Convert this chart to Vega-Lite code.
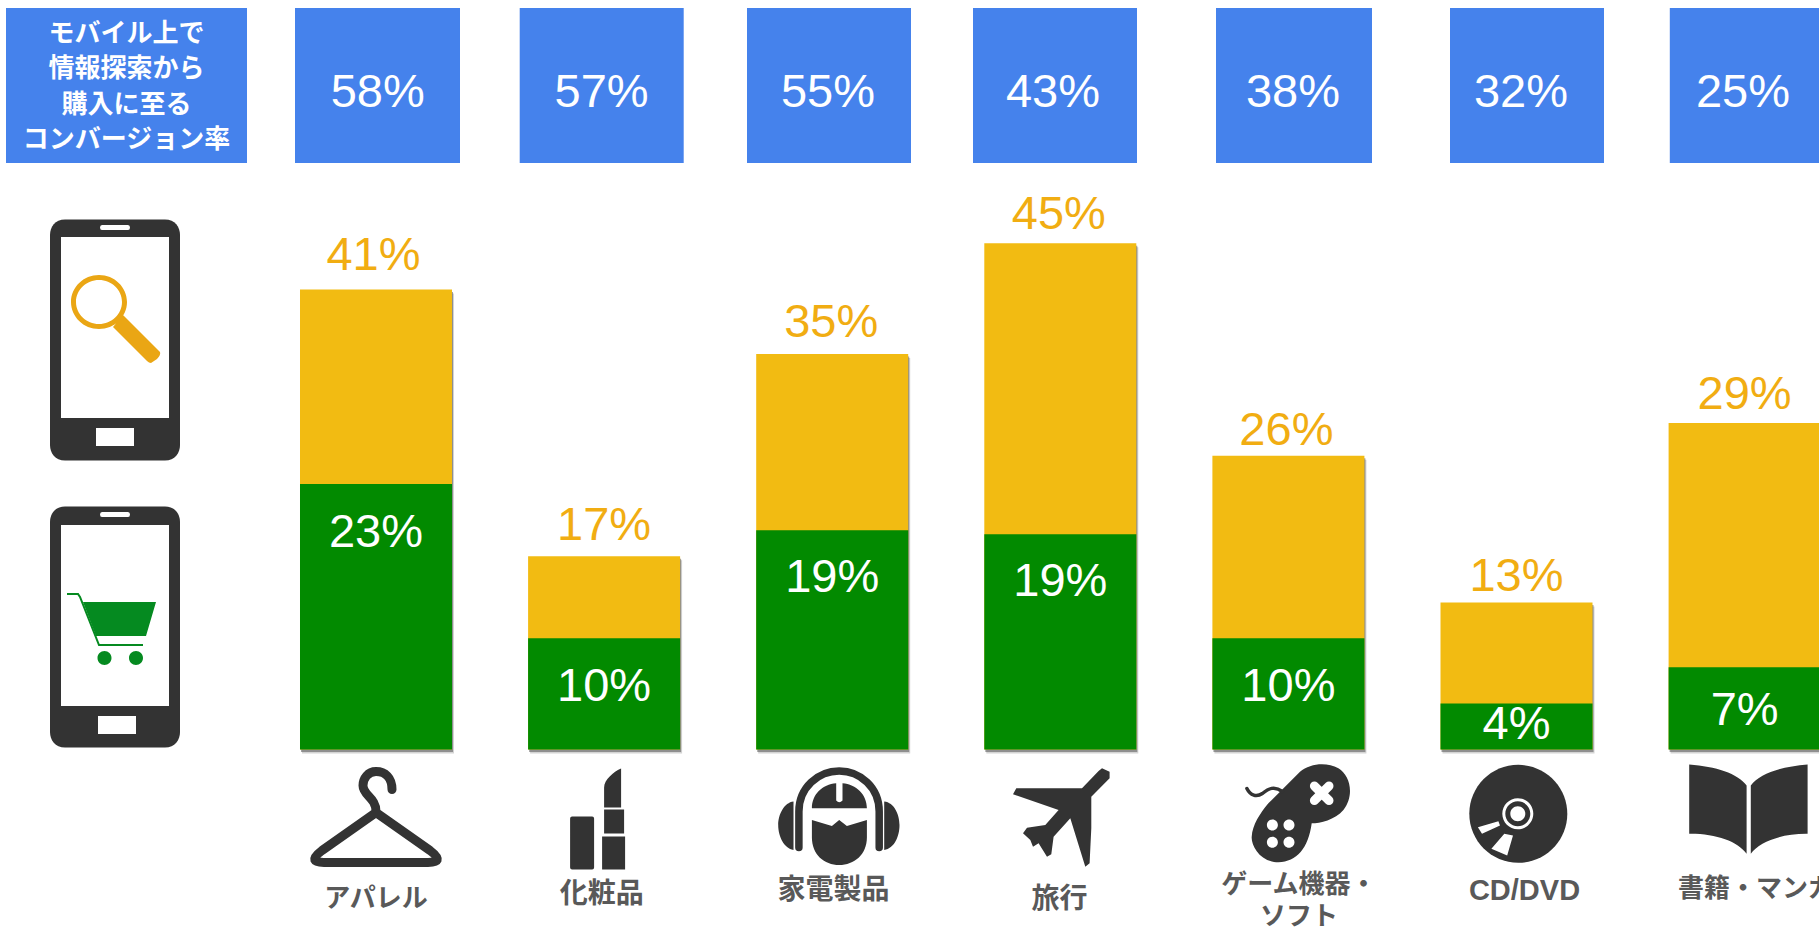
{
"$schema":"https://vega.github.io/schema/vega-lite/v6.json",
"width":1819,"height":930,"padding":0,"autosize":{"type":"none"},"background":"white",
"config":{"view":{"stroke":null},"axis":{"disable":true},"text":{"font":"Liberation Sans","fontSize":47,"baseline":"alphabetic","align":"center"},"point":{"size":4,"filled":true,"opacity":1,"strokeWidth":0}},
"datasets":{
"metrics":[
{"category":"アパレル","search":40.7,"purchase":23.5,"searchLabel":"41%","purchaseLabel":"23%"},
{"category":"化粧品","search":17.1,"purchase":9.85,"searchLabel":"17%","purchaseLabel":"10%"},
{"category":"家電製品","search":35,"purchase":19.4,"searchLabel":"35%","purchaseLabel":"19%"},
{"category":"旅行","search":44.8,"purchase":19.05,"searchLabel":"45%","purchaseLabel":"19%"},
{"category":"ゲーム機器・\nソフト","search":26,"purchase":9.85,"searchLabel":"26%","purchaseLabel":"10%"},
{"category":"CD/DVD","search":13,"purchase":4.07,"searchLabel":"13%","purchaseLabel":"4%"},
{"category":"書籍・マンガ","search":28.9,"purchase":7.28,"searchLabel":"29%","purchaseLabel":"7%"}],
"conversion":[
{"category":"指標","row":"コンバージョン率","label":"モバイル上で\n情報探索から\n購入に至る\nコンバージョン率"},
{"category":"アパレル","row":"コンバージョン率","label":"58%"},
{"category":"化粧品","row":"コンバージョン率","label":"57%"},
{"category":"家電製品","row":"コンバージョン率","label":"55%"},
{"category":"旅行","row":"コンバージョン率","label":"43%"},
{"category":"ゲーム機器・\nソフト","row":"コンバージョン率","label":"38%"},
{"category":"CD/DVD","row":"コンバージョン率","label":"32%"},
{"category":"書籍・マンガ","row":"コンバージョン率","label":"25%"}]
},
"encoding":{"x":{"field":"category","type":"nominal","axis":null,"sort":null,"scale":{"domain":["指標","アパレル","化粧品","家電製品","旅行","ゲーム機器・\nソフト","CD/DVD","書籍・マンガ"],"range":[33.85,1858.65],"paddingInner":0.3336,"paddingOuter":0.1668}}},
"resolve":{"scale":{"y":"independent"}},
"layer":[
{"data":{"name":"metrics"},
"layer":[
{"encoding":{"y":{"field":"search","type":"quantitative","axis":null,"scale":{"domain":[0,66.33],"range":[749.5,0],"nice":false,"zero":false}}},
"layer":[
{"mark":{"type":"bar","color":"#555555","opacity":0.25,"xOffset":2,"yOffset":4}},
{"mark":{"type":"bar","color":"#555555","opacity":0.55,"xOffset":1,"yOffset":2.5}},
{"mark":{"type":"bar","color":"#F2BB12"}}]},
{"mark":{"type":"bar","color":"#028A00"},"encoding":{"y":{"field":"purchase","type":"quantitative","axis":null}}},

{"transform":[{"filter":"datum.category==='アパレル'"}],"layer":[
{"mark":{"type":"text","color":"#F1AD12","dy":-20,"dx":-2.5},"encoding":{"y":{"field":"search","type":"quantitative"},"text":{"field":"searchLabel"}}},
{"mark":{"type":"text","color":"white","dy":62.7},"encoding":{"y":{"field":"purchase","type":"quantitative"},"text":{"field":"purchaseLabel"}}},
{"mark":{"type":"text","color":"#595959","font":"Noto Sans CJK JP","fontWeight":"bold","fontSize":26,"baseline":"middle","dy":149},"encoding":{"y":{"datum":0,"type":"quantitative"},"text":{"field":"category"}}}]},
{"transform":[{"filter":"datum.category==='化粧品'"}],"layer":[
{"mark":{"type":"text","color":"#F1AD12","dy":-16.7},"encoding":{"y":{"field":"search","type":"quantitative"},"text":{"field":"searchLabel"}}},
{"mark":{"type":"text","color":"white","dy":63},"encoding":{"y":{"field":"purchase","type":"quantitative"},"text":{"field":"purchaseLabel"}}},
{"mark":{"type":"text","color":"#595959","font":"Noto Sans CJK JP","fontWeight":"bold","fontSize":28,"baseline":"middle","dy":145,"dx":-2.3},"encoding":{"y":{"datum":0,"type":"quantitative"},"text":{"field":"category"}}}]},
{"transform":[{"filter":"datum.category==='家電製品'"}],"layer":[
{"mark":{"type":"text","color":"#F1AD12","dy":-17.5,"dx":-1},"encoding":{"y":{"field":"search","type":"quantitative"},"text":{"field":"searchLabel"}}},
{"mark":{"type":"text","color":"white","dy":62},"encoding":{"y":{"field":"purchase","type":"quantitative"},"text":{"field":"purchaseLabel"}}},
{"mark":{"type":"text","color":"#595959","font":"Noto Sans CJK JP","fontWeight":"bold","fontSize":28,"baseline":"middle","dy":141.5,"dx":1.4},"encoding":{"y":{"datum":0,"type":"quantitative"},"text":{"field":"category"}}}]},
{"transform":[{"filter":"datum.category==='旅行'"}],"layer":[
{"mark":{"type":"text","color":"#F1AD12","dy":-14,"dx":-1.5},"encoding":{"y":{"field":"search","type":"quantitative"},"text":{"field":"searchLabel"}}},
{"mark":{"type":"text","color":"white","dy":62},"encoding":{"y":{"field":"purchase","type":"quantitative"},"text":{"field":"purchaseLabel"}}},
{"mark":{"type":"text","color":"#595959","font":"Noto Sans CJK JP","fontWeight":"bold","fontSize":28,"baseline":"middle","dy":150,"dx":-0.9},"encoding":{"y":{"datum":0,"type":"quantitative"},"text":{"field":"category"}}}]},
{"transform":[{"filter":"datum.category==='ゲーム機器・\\nソフト'"}],"layer":[
{"mark":{"type":"text","color":"#F1AD12","dy":-11,"dx":-2},"encoding":{"y":{"field":"search","type":"quantitative"},"text":{"field":"searchLabel"}}},
{"mark":{"type":"text","color":"white","dy":63},"encoding":{"y":{"field":"purchase","type":"quantitative"},"text":{"field":"purchaseLabel"}}},
{"mark":{"type":"text","color":"#595959","font":"Noto Sans CJK JP","fontWeight":"bold","fontSize":26,"baseline":"middle","lineBreak":"\n","lineHeight":32,"dy":135,"dx":10.5},"encoding":{"y":{"datum":0,"type":"quantitative"},"text":{"field":"category"}}}]},
{"transform":[{"filter":"datum.category==='CD/DVD'"}],"layer":[
{"mark":{"type":"text","color":"#F1AD12","dy":-12},"encoding":{"y":{"field":"search","type":"quantitative"},"text":{"field":"searchLabel"}}},
{"mark":{"type":"text","color":"white","dy":35.7},"encoding":{"y":{"field":"purchase","type":"quantitative"},"text":{"field":"purchaseLabel"}}},
{"mark":{"type":"text","color":"#595959","fontWeight":"bold","fontSize":29,"baseline":"middle","dy":141,"dx":8},"encoding":{"y":{"datum":0,"type":"quantitative"},"text":{"field":"category"}}}]},
{"transform":[{"filter":"datum.category==='書籍・マンガ'"}],"layer":[
{"mark":{"type":"text","color":"#F1AD12","dy":-14},"encoding":{"y":{"field":"search","type":"quantitative"},"text":{"field":"searchLabel"}}},
{"mark":{"type":"text","color":"white","dy":58},"encoding":{"y":{"field":"purchase","type":"quantitative"},"text":{"field":"purchaseLabel"}}},
{"mark":{"type":"text","color":"#595959","font":"Noto Sans CJK JP","fontWeight":"bold","fontSize":26,"baseline":"middle","dy":139,"dx":11.4},"encoding":{"y":{"datum":0,"type":"quantitative"},"text":{"field":"category"}}}]},

{"encoding":{"y":{"datum":0,"type":"quantitative"}},"layer":[
{"transform":[{"filter":"datum.category==='アパレル'"}],"mark":{"type":"point","filled":false,"stroke":"#333333","strokeWidth":9,"strokeJoin":"round","strokeCap":"round","shape":"M16 40 C16 28 9 22 0 22 C-8 22 -13 29 -13 36 C-13 46 0 48 0 62 M0 63 L-54 101 C-66 110 -62 113 -52 113 L52 113 C62 113 66 110 54 101 Z"}},
{"transform":[{"filter":"datum.category==='化粧品'"}],"mark":{"type":"point","fill":"#333333","shape":"M-34 69 Q-34 67 -32 67 H-12 Q-10 67 -10 69 V118 Q-10 120 -12 120 H-32 Q-34 120 -34 118 Z M0 58 L0 38 C0 30 10 22 17 19 L17 58 Z M0 60 H20 V84 H0 Z M-2 87 H21 V120 H-2 Z"}},
{"transform":[{"filter":"datum.category==='家電製品'"}],"layer":[
{"mark":{"type":"point","fill":"#333333","shape":"M-38.7 52 C-48 53 -54 65 -54 75.5 C-54 87 -48 99 -38.7 100.5 Z M52 52 C62 53 67.3 65 67.3 75.5 C67.3 87 62 99 52 100.5 Z M-20.3 58.8 C-20.3 45 -10 35 4 33.8 L4 51 Q7 54.5 10.3 51 L10.3 33.8 C24 35 34.7 45 34.7 58.8 Z M-20.3 70.5 L-0.3 76.5 L7 70.5 L14.7 76.5 L34.7 70.5 L34.7 88 C34.7 105 22 115.5 7 115.5 C-8 115.5 -20.3 105 -20.3 88 Z"}},
{"mark":{"type":"point","filled":false,"stroke":"#333333","strokeWidth":7.5,"strokeCap":"round","shape":"M-33.3 98 L-33.3 62 C-33.3 38 -14 21.5 7 21.5 C28 21.5 47 38 47 62 L47 98"}}]},
{"transform":[{"filter":"datum.category==='旅行'"}],"mark":{"type":"point","fill":"#333333","shape":"M41.7 18.8 L49.3 22.2 L49.3 28.8 L31 47.2 L31 78.8 L29.3 113.8 L25 117.2 L10 68.8 L-6.7 87.2 L-9 104.8 L-13.3 107.2 L-21.7 93.8 L-27.3 97.2 L-30 90.5 L-37.3 83.8 L-33.3 78.2 L-15 75.5 L-1.7 60.5 L-47.3 44.8 L-44 38.8 L21.7 38.8 L38.3 21.5 Z"}},
{"transform":[{"filter":"datum.category==='ゲーム機器・\\nソフト'"}],"layer":[
{"mark":{"type":"point","fill":"#333333","shape":"M11.6 22.2 C21.6 13.8 38.3 12.2 50 18.8 C61.6 25.5 66.6 45.5 55 60.5 C46.6 70.5 31.6 73.8 23.3 73.8 C20 98.8 8.3 112.2 -10 112.8 C-28.4 112.8 -37.4 95.5 -36.7 87.2 C-36 75.5 -28.4 63.8 -20 53.8 Z"}},
{"mark":{"type":"point","filled":false,"stroke":"#333333","strokeWidth":3.5,"strokeCap":"round","shape":"M-41.5 39 C-38 46 -32 48 -26 44 C-20 39 -14 36 -6 42"}},
{"mark":{"type":"point","fill":"white","shape":"M-21.5 75.5 A5.5 5.5 0 1 1 -10.5 75.5 A5.5 5.5 0 1 1 -21.5 75.5 Z M-4.9 75.5 A5.5 5.5 0 1 1 6.1 75.5 A5.5 5.5 0 1 1 -4.9 75.5 Z M-21.5 92.8 A5.5 5.5 0 1 1 -10.5 92.8 A5.5 5.5 0 1 1 -21.5 92.8 Z M-4.9 92.8 A5.5 5.5 0 1 1 6.1 92.8 A5.5 5.5 0 1 1 -4.9 92.8 Z"}},
{"mark":{"type":"point","filled":false,"stroke":"white","strokeWidth":9,"strokeCap":"round","shape":"M26 36.5 L40.6 51 M40.6 36.5 L26 51"}}]},
{"transform":[{"filter":"datum.category==='CD/DVD'"}],"layer":[
{"mark":{"type":"point","fill":"#333333","xOffset":1,"shape":"M-48.2 64.3 A49 49 0 1 1 49.8 64.3 A49 49 0 1 1 -48.2 64.3 Z"}},
{"mark":{"type":"point","fill":"white","xOffset":1,"shape":"M-15.2 64.3 A15.5 15.5 0 1 1 15.8 64.3 A15.5 15.5 0 1 1 -15.2 64.3 Z M-12.2 64.3 A12.5 12.5 0 1 0 12.8 64.3 A12.5 12.5 0 1 0 -12.2 64.3 Z M-7.2 64.3 A7.5 7.5 0 1 1 7.8 64.3 A7.5 7.5 0 1 1 -7.2 64.3 Z M-39.6 77.7 L-19.1 71.7 L-17.5 76 L-35.5 84.3 Z M-26.1 99.3 L-13.2 84.3 L-4.5 86 L-10.3 106 Z"}}]},
{"transform":[{"filter":"datum.category==='書籍・マンガ'"}],"mark":{"type":"point","fill":"#333333","xOffset":1.2,"shape":"M-56.6 15 C-30 17 -8 24 0.8 36 L0.8 104.3 C-8 92 -30 84 -56.6 84.3 Z M5 36 C14 24 36 17 61.8 15 L61.8 84.3 C36 84 14 92 5 104.3 Z"}},
{"data":{"name":"conversion"},"transform":[{"filter":"datum.category==='指標'"}],"layer":[
{"mark":{"type":"point","fill":"#333333","xOffset":-32.9,"yOffset":-409.5,"shape":"M-50 -120.5 H50 C60 -120.5 65 -113 65 -105 V105 C65 113 60 120.5 50 120.5 H-50 C-60 120.5 -65 113 -65 105 V-105 C-65 -113 -60 -120.5 -50 -120.5 Z"}},
{"mark":{"type":"point","fill":"white","xOffset":-32.9,"yOffset":-409.5,"shape":"M-54 -103 H54 V78 H-54 Z M-19 88 H19 V106 H-19 Z M-13 -115 H13 Q15 -115 15 -112.5 Q15 -110 13 -110 H-13 Q-15 -110 -15 -112.5 Q-15 -115 -13 -115 Z"}},
{"mark":{"type":"point","fill":"#EAA614","xOffset":-32.9,"yOffset":-409.5,"shape":"M-44 -38 A28 27 0 1 1 12 -38 A28 27 0 1 1 -44 -38 Z M-39 -38 A23 22 0 1 0 7 -38 A23 22 0 1 0 -39 -38 Z M8 -25 L45 12 Q46 15 42 19 L36 23 Q34 23 32 21 L-2 -13 Z"}},
{"mark":{"type":"point","fill":"#333333","xOffset":-32.9,"yOffset":-122.5,"shape":"M-50 -120.5 H50 C60 -120.5 65 -113 65 -105 V105 C65 113 60 120.5 50 120.5 H-50 C-60 120.5 -65 113 -65 105 V-105 C-65 -113 -60 -120.5 -50 -120.5 Z"}},
{"mark":{"type":"point","fill":"white","xOffset":-32.9,"yOffset":-122.5,"shape":"M-54 -102 H54 V79 H-54 Z M-17 89 H21 V107 H-17 Z M-13 -115 H13 Q15 -115 15 -112.5 Q15 -110 13 -110 H-13 Q-15 -110 -15 -112.5 Q-15 -115 -13 -115 Z"}},
{"mark":{"type":"point","fill":"#058A20","xOffset":-32.9,"yOffset":-122.5,"shape":"M-32 -25 L41 -25 L31 9 L-19 9 Z M-17.5 31 A7 7 0 1 1 -3.5 31 A7 7 0 1 1 -17.5 31 Z M14 31 A7 7 0 1 1 28 31 A7 7 0 1 1 14 31 Z"}},
{"mark":{"type":"point","filled":false,"stroke":"#058A20","strokeWidth":2,"xOffset":-32.9,"yOffset":-122.5,"shape":"M-48 -33 L-37 -33 L-35 -30 L-16 18 L28 18"}}
]}
]}
]},
{"data":{"name":"conversion"},
"encoding":{"y":{"field":"row","type":"nominal","axis":null,"scale":{"domain":["コンバージョン率"],"range":[163,8],"paddingInner":0,"paddingOuter":0}}},
"layer":[
{"transform":[{"filter":"datum.category==='指標'"}],"layer":[
{"mark":{"type":"bar","color":"#4582EC","width":241,"xOffset":-21.4}},
{"mark":{"type":"text","color":"white","font":"Noto Sans CJK JP","fontWeight":"bold","fontSize":26,"baseline":"middle","lineBreak":"\n","lineHeight":35.5,"dx":-21.4,"dy":-52},"encoding":{"text":{"field":"label"}}}]},
{"transform":[{"filter":"datum.category==='アパレル'"}],"layer":[
{"mark":{"type":"bar","color":"#4582EC","width":165,"xOffset":1.5}},
{"mark":{"type":"text","color":"white","dx":1.7,"dy":21.5},"encoding":{"text":{"field":"label"}}}]},
{"transform":[{"filter":"datum.category==='化粧品'"}],"layer":[
{"mark":{"type":"bar","color":"#4582EC","width":164,"xOffset":-2.4}},
{"mark":{"type":"text","color":"white","dx":-2.5,"dy":21.5},"encoding":{"text":{"field":"label"}}}]},
{"transform":[{"filter":"datum.category==='家電製品'"}],"layer":[
{"mark":{"type":"bar","color":"#4582EC","width":164,"xOffset":-3.2}},
{"mark":{"type":"text","color":"white","dx":-4.2,"dy":21.5},"encoding":{"text":{"field":"label"}}}]},
{"transform":[{"filter":"datum.category==='旅行'"}],"layer":[
{"mark":{"type":"bar","color":"#4582EC","width":164,"xOffset":-5.3}},
{"mark":{"type":"text","color":"white","dx":-7.3,"dy":21.5},"encoding":{"text":{"field":"label"}}}]},
{"transform":[{"filter":"datum.category==='ゲーム機器・\\nソフト'"}],"layer":[
{"mark":{"type":"bar","color":"#4582EC","width":156,"xOffset":5.6}},
{"mark":{"type":"text","color":"white","dx":4.6,"dy":21.5},"encoding":{"text":{"field":"label"}}}]},
{"transform":[{"filter":"datum.category==='CD/DVD'"}],"layer":[
{"mark":{"type":"bar","color":"#4582EC","width":154,"xOffset":10.5}},
{"mark":{"type":"text","color":"white","dx":4.5,"dy":21.5},"encoding":{"text":{"field":"label"}}}]},
{"transform":[{"filter":"datum.category==='書籍・マンガ'"}],"layer":[
{"mark":{"type":"bar","color":"#4582EC","width":160,"xOffset":5.2}},
{"mark":{"type":"text","color":"white","dx":-1.6,"dy":21.5},"encoding":{"text":{"field":"label"}}}]}
]}
]
}
